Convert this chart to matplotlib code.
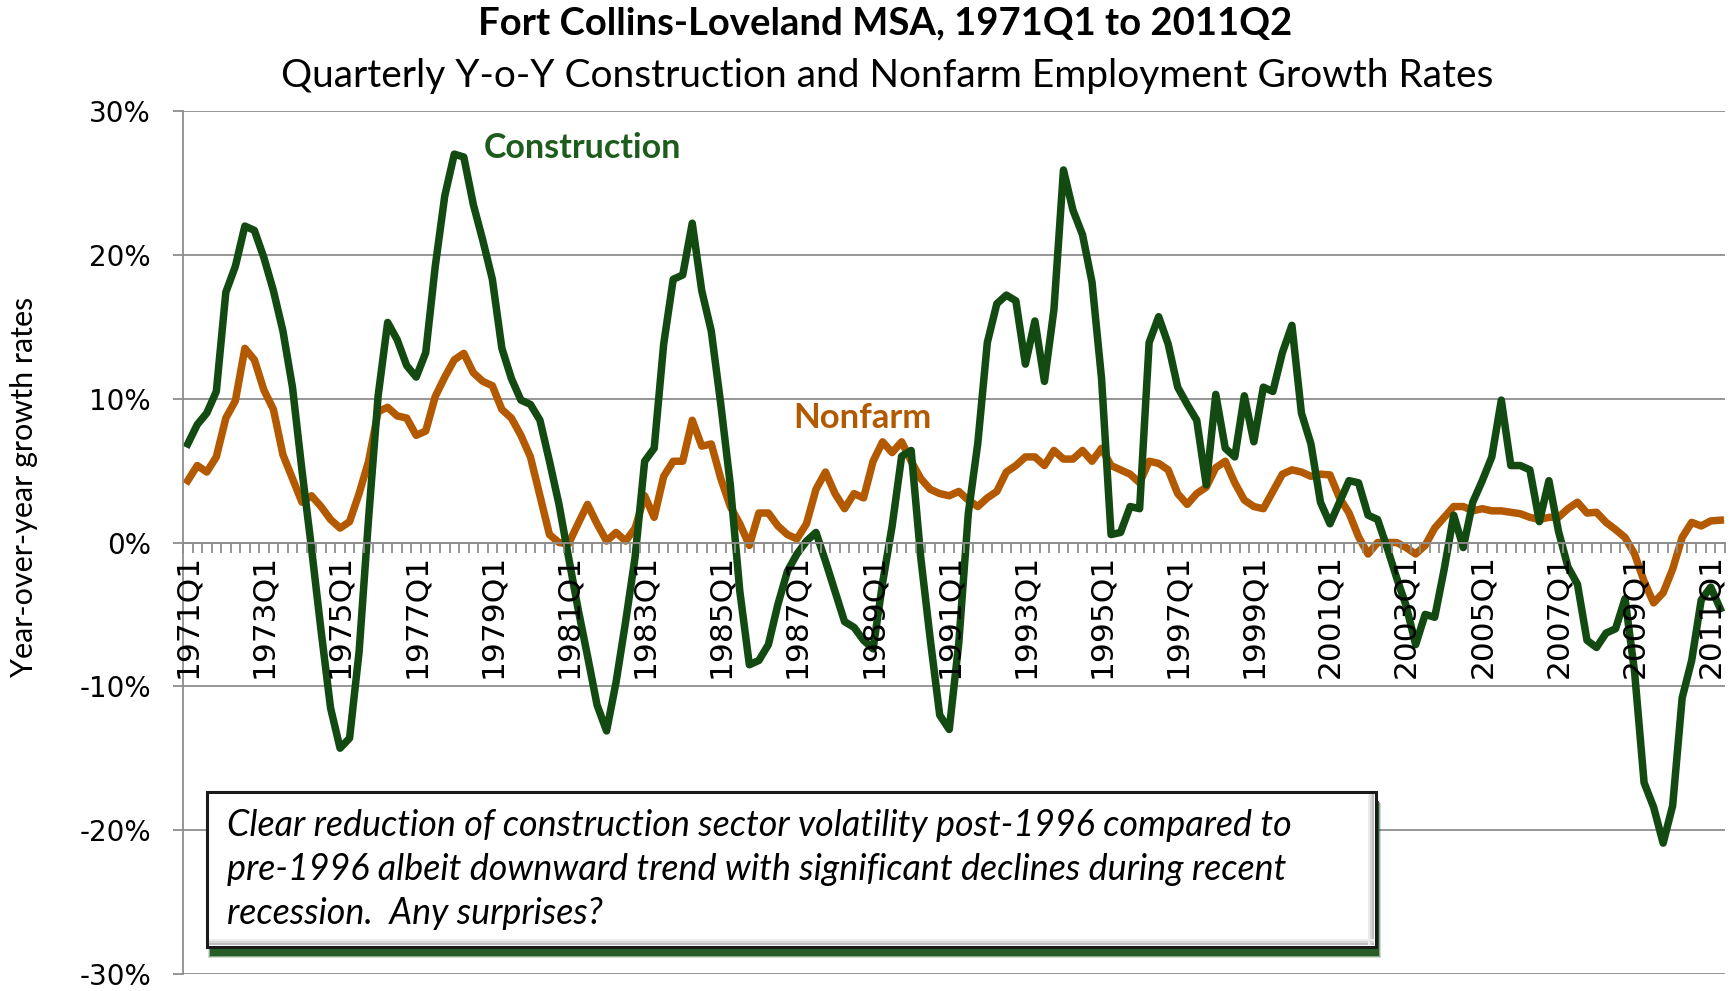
import matplotlib
matplotlib.use("Agg")
import matplotlib.pyplot as plt
from matplotlib.patches import Rectangle
from matplotlib.ticker import FuncFormatter, MultipleLocator
import numpy as np

# Year-over-year growth rates (%), quarterly 1971Q1 .. 2011Q2
construction = [
    6.85, 8.2, 9.0, 10.5, 17.4, 19.2, 22.0, 21.7, 19.8, 17.5,
    14.7, 10.8, 5.0, -0.4, -6.1, -11.5, -14.3, -13.6, -7.6, 1.7,
    10.2, 15.3, 14.1, 12.3, 11.5, 13.2, 19.2, 24.1, 27.0, 26.8,
    23.5, 21.0, 18.3, 13.5, 11.4, 9.9, 9.6, 8.5, 5.65, 2.65,
    -1.0, -4.6, -7.9, -11.3, -13.1, -9.7, -5.5, -1.0, 5.65, 6.55,
    13.8, 18.3, 18.6, 22.2, 17.5, 14.7, 9.6, 4.0, -3.4, -8.5,
    -8.2, -7.1, -4.3, -2.0, -0.8, 0.1, 0.7, -1.3, -3.4, -5.5,
    -5.9, -6.8, -7.4, -2.8, 1.15, 6.0, 6.4, -1.0, -6.7, -12.0,
    -13.0, -7.0, 2.0, 6.9, 13.9, 16.6, 17.2, 16.8, 12.4, 15.4,
    11.2, 16.2, 25.9, 23.1, 21.4, 18.1, 11.4, 0.55, 0.7, 2.5,
    2.35, 13.9, 15.7, 13.8, 10.8, 9.6, 8.5, 4.0, 10.3, 6.55,
    5.95, 10.2, 7.0, 10.8, 10.5, 13.2, 15.1, 9.0, 6.85, 2.8,
    1.3, 2.8, 4.3, 4.15, 1.9, 1.6, -0.35, -2.45, -4.4, -7.1,
    -5.0, -5.2, -1.85, 1.9, -0.35, 2.8, 4.3, 5.95, 9.9, 5.35,
    5.35, 5.05, 1.45, 4.3, 0.8, -1.7, -2.9, -6.8, -7.3, -6.3,
    -6.0, -3.9, -9.0, -16.7, -18.4, -20.9, -18.3, -10.8, -8.2, -4.0,
    -3.1, -4.6,
]

nonfarm = [
    4.3, 5.35, 4.9, 5.95, 8.65, 9.85, 13.5, 12.7, 10.6, 9.25,
    6.1, 4.45, 2.8, 3.25, 2.5, 1.6, 1.0, 1.45, 3.4, 5.65,
    9.1, 9.4, 8.8, 8.65, 7.45, 7.75, 10.15, 11.5, 12.7, 13.15,
    11.8, 11.2, 10.9, 9.25, 8.65, 7.45, 5.95, 3.25, 0.55, 0.0,
    -0.1, 1.3, 2.65, 1.3, 0.1, 0.7, 0.1, 1.0, 3.25, 1.75,
    4.6, 5.65, 5.65, 8.5, 6.7, 6.85, 4.45, 2.5, 1.3, -0.2,
    2.05, 2.05, 1.15, 0.55, 0.25, 1.3, 3.7, 4.9, 3.4, 2.35,
    3.4, 3.1, 5.65, 7.0, 6.25, 7.0, 5.65, 4.45, 3.7, 3.4,
    3.25, 3.55, 2.95, 2.5, 3.1, 3.55, 4.9, 5.35, 5.95, 5.95,
    5.35, 6.4, 5.8, 5.8, 6.4, 5.65, 6.55, 5.35, 5.05, 4.75,
    4.15, 5.65, 5.5, 5.05, 3.4, 2.65, 3.4, 3.85, 5.2, 5.65,
    4.15, 2.95, 2.5, 2.35, 3.55, 4.75, 5.05, 4.9, 4.6, 4.75,
    4.7, 3.1, 2.05, 0.4, -0.8, 0.0, 0.0, 0.0, -0.35, -0.8,
    -0.2, 1.0, 1.75, 2.5, 2.5, 2.2, 2.35, 2.2, 2.2, 2.1,
    2.0, 1.75, 1.6, 1.75, 1.75, 2.35, 2.8, 2.05, 2.1, 1.4,
    0.9, 0.35, -0.8, -2.7, -4.2, -3.5, -1.85, 0.35, 1.4, 1.15,
    1.5, 1.55,
]

# labelled quarters (every 8th quarter)
tick_labels = [
    "1971Q1", "1973Q1", "1975Q1", "1977Q1", "1979Q1", "1981Q1", "1983Q1",
    "1985Q1", "1987Q1", "1989Q1", "1991Q1", "1993Q1", "1995Q1", "1997Q1",
    "1999Q1", "2001Q1", "2003Q1", "2005Q1", "2007Q1", "2009Q1", "2011Q1",
]

GREEN = "#124a12"
ORANGE = "#b35900"
GRID = "#8e8e8e"
W, H = 1736, 991

x = np.arange(len(construction))

fig = plt.figure(figsize=(W / 100, H / 100), dpi=100)
ax = fig.add_axes([183 / W, 1 - 974 / H, (1725 - 183) / W, (974 - 111) / H])

# gridlines behind the data
for v in range(-30, 31, 10):
    ax.axhline(v, color=GRID, lw=1.3, zorder=0.5)

ax.plot(x, nonfarm, color=ORANGE, lw=5.4, solid_joinstyle="round", zorder=2)
ax.plot(x, construction, color=GREEN, lw=5.4, solid_joinstyle="round", zorder=2.1)

ax.set_xlim(-0.5, len(x) - 0.5)
ax.set_ylim(-30, 30)
ax.set_axisbelow(False)

for s in ("top", "right"):
    ax.spines[s].set_visible(False)
ax.spines["left"].set_color(GRID)
ax.spines["left"].set_linewidth(1.3)
ax.spines["bottom"].set_position(("data", 0))
ax.spines["bottom"].set_color(GRID)
ax.spines["bottom"].set_linewidth(1.3)

ax.yaxis.set_major_locator(MultipleLocator(10))
ax.yaxis.set_major_formatter(FuncFormatter(lambda v, p: f"{v:.0f}%"))
ax.tick_params(axis="y", direction="out", length=7, width=1.3, color=GRID,
               pad=16, labelsize=20)

ax.set_xticks(np.arange(0, len(x), 8))
ax.set_xticklabels(tick_labels, rotation=90)
ax.set_xticks(np.arange(len(x) + 1) - 0.5, minor=True)
ax.tick_params(axis="x", which="major", length=0, pad=8, labelsize=22.5)
ax.tick_params(axis="x", which="minor", direction="out", length=7,
               width=1.3, color=GRID)
for lab in ax.get_yticklabels() + ax.get_xticklabels():
    lab.set_family("DejaVu Sans")

# titles
fig.text(0.51, 1 - 23 / H, "Fort Collins-Loveland MSA, 1971Q1 to 2011Q2",
         ha="center", va="center", fontsize=27.5, fontweight="bold",
         family="Lato")
fig.text(0.511, 1 - 76 / H,
         "Quarterly Y-o-Y Construction and Nonfarm Employment Growth Rates",
         ha="center", va="center", fontsize=28, family="Lato")
fig.text(24 / W, 1 - 487 / H, "Year-over-year growth rates", rotation=90,
         ha="center", va="center", fontsize=22, family="Lato")

# series labels
fig.text(484 / W, 1 - 148 / H, "Construction", color="#1d5c1d",
         fontsize=24.5, fontweight="bold", family="Lato", va="center")
fig.text(793 / W, 1 - 418 / H, "Nonfarm", color=ORANGE,
         fontsize=25, fontweight="bold", family="Lato", va="center")

# annotation box with green drop shadow
bx0, bx1, by0, by1 = 207, 1376, 792, 947
for k, a in enumerate([0.2, 0.4, 0.9]):
    off = 2 - k
    fig.patches.append(Rectangle(
        ((bx0 + 3 - off) / W, 1 - (by1 + 9 + off) / H),
        (bx1 - bx0 + 2 * off) / W, (by1 - by0) / H,
        transform=fig.transFigure, facecolor="#1d561d", edgecolor="none",
        alpha=a, zorder=5))
fig.patches.append(Rectangle(
    (bx0 / W, 1 - by1 / H), (bx1 - bx0) / W, (by1 - by0) / H,
    transform=fig.transFigure, facecolor="white", edgecolor="#1a1a1a",
    lw=2.2, zorder=6))
# bevel along bottom and right
for k, g in enumerate(["#bdbdbd", "#d6d6d6", "#ebebeb"]):
    fig.patches.append(Rectangle(
        ((bx0 + 2) / W, 1 - (by1 - 2 - 2 * k) / H), (bx1 - bx0 - 4) / W,
        2 / H, transform=fig.transFigure, facecolor=g, edgecolor="none",
        zorder=6.5))
    fig.patches.append(Rectangle(
        ((bx1 - 4 - 2 * k) / W, 1 - (by1 - 2) / H), 2 / W,
        (by1 - by0 - 4) / H, transform=fig.transFigure, facecolor=g,
        edgecolor="none", zorder=6.5))

box_lines = [
    "Clear reduction of construction sector volatility post-1996 compared to",
    "pre-1996 albeit downward trend with significant declines during recent",
    "recession.  Any surprises?",
]
for j, line in enumerate(box_lines):
    fig.text(227 / W, 1 - (825 + 44.5 * j) / H, line, ha="left",
             va="center", fontsize=25.8, fontstyle="italic", family="Lato",
             zorder=7)

fig.savefig("out.png", dpi=100)
